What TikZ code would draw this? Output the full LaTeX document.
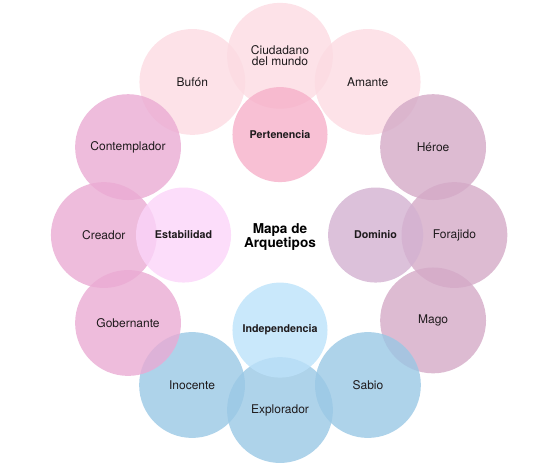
\documentclass[tikz,border=0pt]{standalone}
\usepackage{fontspec}
\setmainfont{TeX Gyre Heros}
\usetikzlibrary{backgrounds}
\pgfdeclarelayer{edgelayer}
\pgfdeclarelayer{nodelayer}
\pgfsetlayers{edgelayer,nodelayer,main}
\definecolor{rosaclaro}{RGB}{252,219,226}
\definecolor{rosa}{RGB}{246,176,201}
\definecolor{magenta}{RGB}{234,171,211}
\definecolor{lila}{RGB}{251,212,249}
\definecolor{malva}{RGB}{212,170,199}
\definecolor{malvaclaro}{RGB}{211,178,209}
\definecolor{azul}{RGB}{154,200,229}
\definecolor{celeste}{RGB}{188,226,250}
\definecolor{texto}{RGB}{30,26,28}
\tikzset{font=\fontsize{12}{11}\selectfont}
\tikzstyle{none}=[inner sep=0pt]
\tikzstyle{outer}=[circle,inner sep=0pt,minimum size=3.72cm,fill opacity=0.8,text opacity=1,text=texto,align=center]
\tikzstyle{inner}=[circle,inner sep=0pt,minimum size=3.34cm,fill opacity=0.8,text opacity=1,text=texto,align=center,font=\bfseries\fontsize{10.7}{11}\selectfont]
\tikzstyle{top}=[outer,fill=rosaclaro]
\tikzstyle{left}=[outer,fill=magenta]
\tikzstyle{right}=[outer,fill=malva]
\tikzstyle{bottom}=[outer,fill=azul]
\tikzstyle{title}=[inner sep=0pt,align=center,text=black,font=\bfseries\fontsize{13.6}{14}\selectfont]

\begin{document}
\begin{tikzpicture}
	\useasboundingbox (-9.84, -8.22) rectangle (9.84, 8.26);
	\begin{pgfonlayer}{nodelayer}
		\node [style=top] (0) at (-3.08, 5.38) {Bufón};
		\node [style=top] (1) at (0, 6.3) {Ciudadano\\del mundo};
		\node [style=top] (2) at (3.08, 5.38) {Amante};
		\node [style=right] (3) at (5.38, 3.09) {Héroe};
		\node [style=right] (4) at (6.13, 0) {Forajido};
		\node [style=right] (5) at (5.38, -3.0) {Mago};
		\node [style=bottom] (6) at (3.09, -5.27) {Sabio};
		\node [style=bottom] (7) at (0, -6.15) {Explorador};
		\node [style=bottom] (8) at (-3.09, -5.27) {Inocente};
		\node [style=left] (9) at (-5.34, -3.09) {Gobernante};
		\node [style=left] (10) at (-6.19, 0) {Creador};
		\node [style=left] (11) at (-5.34, 3.09) {Contemplador};
		\node [style=inner, fill=rosa] (12) at (0, 3.53) {Pertenencia};
		\node [style=inner, fill=malvaclaro] (13) at (3.36, 0) {Dominio};
		\node [style=inner, fill=celeste] (14) at (0, -3.34) {Independencia};
		\node [style=inner, fill=lila] (15) at (-3.39, 0) {Estabilidad};
		\node [style=title] (16) at (0, -0.07) {Mapa de\\Arquetipos};
	\end{pgfonlayer}
\end{tikzpicture}
\end{document}
